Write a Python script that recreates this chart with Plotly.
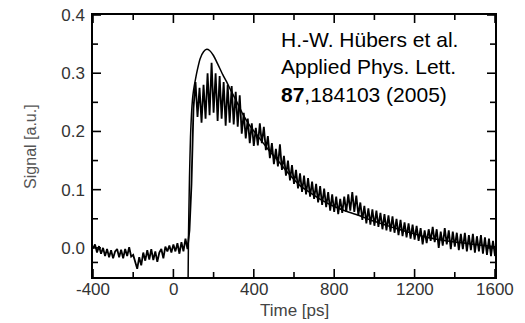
import plotly.graph_objects as go

time_ps = list(range(-400, 1601, 10))
signal = [
    -0.001, 0.006, -0.008, 0.003, -0.010, 0.000, -0.014, -0.002, -0.016, -0.004,
    -0.018, -0.006, -0.002, -0.016, -0.003, -0.018, -0.002, -0.014, 0.001, -0.015,
    -0.012, -0.026, -0.036, -0.016, -0.030, -0.008, -0.022, -0.004, -0.020, -0.002,
    -0.021, -0.006, -0.024, -0.008, -0.002, -0.018, 0.002, -0.006, 0.004, -0.008,
    0.006, -0.006, 0.008, -0.010, 0.010, -0.006, 0.016, -0.002, 0.030, 0.110,
    0.240, 0.285, 0.225, 0.275, 0.215, 0.280, 0.222, 0.300, 0.228, 0.318,
    0.232, 0.300, 0.218, 0.295, 0.222, 0.285, 0.210, 0.280, 0.215, 0.278,
    0.212, 0.268, 0.208, 0.262, 0.196, 0.232, 0.188, 0.222, 0.180, 0.214,
    0.175, 0.206, 0.176, 0.214, 0.180, 0.208, 0.168, 0.192, 0.154, 0.180,
    0.144, 0.170, 0.140, 0.178, 0.134, 0.158, 0.124, 0.150, 0.116, 0.142,
    0.110, 0.134, 0.102, 0.128, 0.096, 0.124, 0.092, 0.120, 0.088, 0.114,
    0.084, 0.110, 0.078, 0.106, 0.074, 0.102, 0.070, 0.096, 0.064, 0.092,
    0.062, 0.088, 0.058, 0.084, 0.060, 0.088, 0.062, 0.092, 0.064, 0.096,
    0.062, 0.090, 0.056, 0.078, 0.048, 0.072, 0.042, 0.068, 0.040, 0.066,
    0.038, 0.064, 0.036, 0.060, 0.032, 0.058, 0.030, 0.056, 0.028, 0.054,
    0.026, 0.050, 0.022, 0.048, 0.020, 0.044, 0.018, 0.042, 0.016, 0.040,
    0.014, 0.038, 0.012, 0.034, 0.006, 0.030, 0.008, 0.032, 0.012, 0.036,
    0.010, 0.032, 0.000, 0.028, 0.004, 0.034, 0.006, 0.030, -0.002, 0.028,
    0.002, 0.026, -0.004, 0.024, -0.002, 0.026, -0.006, 0.022, -0.004, 0.024,
    -0.008, 0.020, -0.006, 0.022, -0.010, 0.018, -0.012, 0.016, -0.014, 0.012,
    -0.014,
]

# Model (smooth) curve points
model_t = [73, 75, 80, 85, 90, 95, 100, 110, 120, 133, 150, 166, 180, 200, 223,
           245, 265, 285, 306, 328, 348, 380, 420, 470, 520, 572, 630, 680, 738,
           800, 860, 920, 980, 1040, 1100, 1160, 1240, 1310, 1400, 1500, 1600]
model_v = [-0.06, 0.02, 0.12, 0.19, 0.23, 0.255, 0.27, 0.29, 0.307, 0.325, 0.337,
           0.341, 0.339, 0.330, 0.314, 0.298, 0.285, 0.271, 0.257, 0.242, 0.228,
           0.210, 0.192, 0.170, 0.150, 0.128, 0.107, 0.095, 0.082, 0.071, 0.063,
           0.056, 0.048, 0.041, 0.034, 0.028, 0.020, 0.015, 0.010, 0.006, 0.002]

x_range = [-400, 1600]
y_range = [-0.05, 0.4]
x_ticks = [-400, 0, 400, 800, 1200, 1600]
x_tick_text = ["-400", "0", "400", "800", "1200", "1600"]
y_ticks = [0.0, 0.1, 0.2, 0.3, 0.4]
y_tick_text = ["0.0", "0.1", "0.2", "0.3", "0.4"]

W, H = 525, 323
M = dict(l=93, r=30, t=15, b=46)
plot_w = W - M["l"] - M["r"]
plot_h = H - M["t"] - M["b"]

fig = go.Figure()
fig.add_trace(go.Scatter(x=model_t, y=model_v, mode="lines",
                         line=dict(color="black", width=1.5, shape="spline", smoothing=0.6),
                         showlegend=False))
fig.add_trace(go.Scatter(x=time_ps, y=signal, mode="lines",
                         line=dict(color="black", width=1.8),
                         showlegend=False))

# Inside tick marks on all four sides, built from tick values and converted
# from pixel length to data units via the axis ranges
x_minor = [(a + b) / 2 for a, b in zip(x_ticks[:-1], x_ticks[1:])]
y_minor = [(a + b) / 2 for a, b in zip([y_range[0]] + y_ticks[:-1], y_ticks)]
px_y = (y_range[1] - y_range[0]) / plot_h
px_x = (x_range[1] - x_range[0]) / plot_w
tx, ty = [], []
for xs, ln in ((x_ticks, 8), (x_minor, 5)):
    for xv in xs:
        tx += [xv, xv, None, xv, xv, None]
        ty += [y_range[0], y_range[0] + ln * px_y, None,
               y_range[1], y_range[1] - ln * px_y, None]
for ys, ln in ((y_ticks, 8), (y_minor, 5)):
    for yv in ys:
        tx += [x_range[0], x_range[0] + ln * px_x, None,
               x_range[1], x_range[1] - ln * px_x, None]
        ty += [yv, yv, None, yv, yv, None]
fig.add_trace(go.Scatter(x=tx, y=ty, mode="lines", line=dict(color="black", width=1.6),
                         hoverinfo="skip", showlegend=False, connectgaps=False))

font_fam = "Liberation Sans, Arial, sans-serif"
axis_common = dict(
    showline=True, linecolor="black", linewidth=1.5, mirror=True,
    ticks="", showgrid=False, zeroline=False, automargin=False,
    tickfont=dict(family=font_fam, size=17, color="#333"),
)
fig.update_xaxes(range=x_range, showticklabels=False, **axis_common)
fig.update_yaxes(range=y_range, tickmode="array", tickvals=y_ticks, ticktext=y_tick_text,
                 ticklabelstandoff=3, **axis_common)

# x tick labels placed just under the axis
for xv, lab in zip(x_ticks, x_tick_text):
    fig.add_annotation(xref="x", yref="paper", x=xv, y=-0.046, xanchor="center",
                       yanchor="middle", text=lab, showarrow=False,
                       font=dict(family=font_fam, size=17, color="#333"))

fig.add_annotation(
    xref="x", yref="y", x=525, y=0.31, xanchor="left", yanchor="middle",
    text="H.-W. Hübers et al.<br>Applied Phys. Lett.<br><b>87</b>,184103 (2005)",
    showarrow=False, align="left",
    font=dict(family=font_fam, size=21, color="black"),
)
fig.add_annotation(
    xref="paper", yref="paper", x=0.5, y=-0.126, xanchor="center", yanchor="middle",
    text="Time [ps]", showarrow=False,
    font=dict(family=font_fam, size=17, color="#444"),
)
fig.add_annotation(
    xref="paper", yref="paper", x=-0.157, y=0.5, xanchor="center", yanchor="middle",
    text="Signal [a.u.]", showarrow=False, textangle=-90,
    font=dict(family=font_fam, size=16, color="#555"),
)

fig.update_layout(
    width=W, height=H, margin=M,
    paper_bgcolor="white", plot_bgcolor="white",
)

fig.write_html("out.html")
